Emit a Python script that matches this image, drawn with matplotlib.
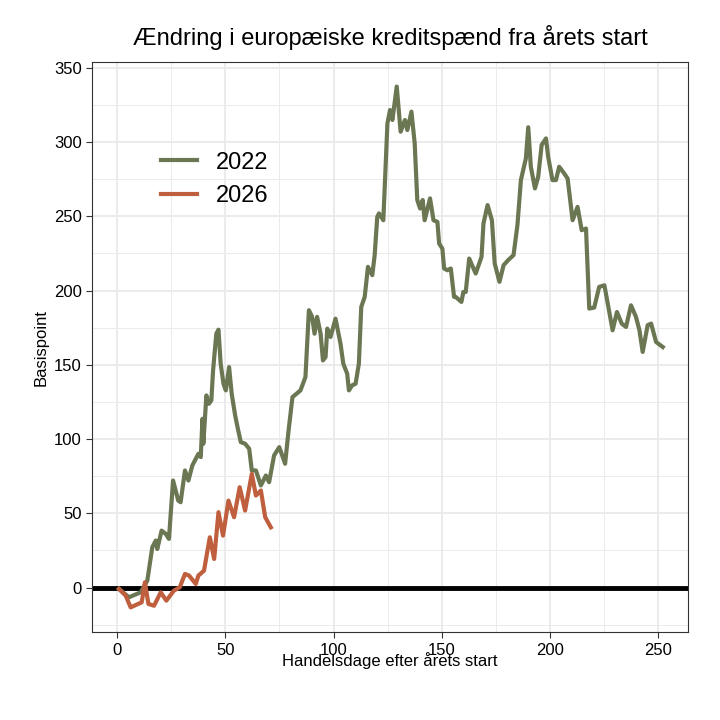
import matplotlib
matplotlib.use("Agg")
import matplotlib.pyplot as plt
from matplotlib.ticker import MultipleLocator
plt.rcParams['font.family'] = ['Liberation Sans', 'DejaVu Sans']

days_2022 = [0.8,5.4,10.8,13.9,16.2,17.8,18.5,20.5,22.4,23.9,25.8,28.2,29.3,31.3,32.9,34.7,37.5,38.6,39.4,39.8,41.2,42.4,43.5,44.3,45.8,46.8,47.8,49.1,50.2,51.7,52.9,54.5,55.6,57.1,59.1,61,62.2,64.1,66.4,68.7,70.2,72.5,74.9,77.6,79.2,81,84.7,87,88.6,90.1,91.2,92.4,94,95.1,96.3,97.1,98.6,100.9,103.2,104.5,106.3,107.1,108.6,110.2,111.7,112.8,114.4,115.9,117.9,119,120.2,121,123,124.9,126.1,127.2,129.2,131,133,134.1,136,137.5,138.7,140,141.2,142.1,144.6,146.2,148,148.8,150.3,151.1,152.6,154.2,155.7,156.4,159.1,160,161.1,162.7,165.7,168.4,169.3,171.2,173.2,174.5,176.7,178.6,180.7,183.2,185,186.6,188.9,190,191.2,193.1,194.6,196.2,198.2,199.2,201.2,202.8,204.3,206.6,208.2,210.5,212.8,214.7,216.7,218.2,220.5,222.8,225.2,229,231,233.2,235.2,237.5,239.8,241.4,242.9,245.2,246.8,249.1,252.2]
vals_2022 = [-0.9,-6.5,-3.2,4.7,27.2,31.7,26,38.4,36.2,32.8,72.1,58.6,57.5,78.9,72.1,82.2,90.1,87.9,113.7,96.9,129.4,123.8,126.1,146.3,171,173.7,150.8,137.3,132.8,148.5,130.6,116,108.1,98,96.9,93.5,78.9,78.9,68.8,75.5,71,89,94.6,83.4,105.8,128.3,132.8,141.8,186.8,182.3,171,182.3,171,153,155.3,174.4,168.8,181.1,164.3,150.8,144,132.8,136.2,137.3,150.8,189,195.8,216,210.4,223.9,249.7,252,247.4,312.6,321.6,314.9,337.4,307,314.9,308.1,320.5,299.2,261,255.3,261,247.4,262.1,247.4,246.3,231.7,228.3,214.9,213.7,214.9,195.8,195.8,192.4,199.1,199.1,221.6,211.5,222.7,245.2,257.6,247.4,218.2,205.9,217.1,220.5,223.9,244.1,274.4,289,310,283.4,268.8,276.7,298.1,302.5,290.2,274.4,274.4,283.4,278.9,275.5,247.4,256.4,240.7,241.8,187.9,188.6,202.5,203.6,173.3,185.6,177.8,175.5,190.1,182.3,173.3,158.7,176.7,177.8,165.4,162]

days_2026 = [0.8,3.9,6.2,11.3,12.8,14.4,17,20.1,22.7,26.2,28.9,31.3,33.2,36.3,37.5,40.1,42.8,44.8,46.8,48.9,51.4,54,56.6,59.1,62.2,64.1,66.4,68.4,71]
vals_2026 = [-0.9,-5.4,-13.3,-9.9,3.6,-11,-12.2,-3.2,-8.8,-2,0.2,9.2,8.1,2.5,8.1,11.4,33.9,19.3,50.8,35,58.6,47.4,67.6,51.9,76.6,62,65.4,47.4,40.6]

x_ticks = [0, 50, 100, 150, 200, 250]
y_ticks = [0, 50, 100, 150, 200, 250, 300, 350]

fig = plt.figure(figsize=(7.2, 7.2), dpi=100)
ax = fig.add_axes([0.128, 0.122, 0.828, 0.792])
ax.set_xlim(-11.6, 264)
ax.set_ylim(-30, 354)
ax.xaxis.set_minor_locator(MultipleLocator(25))
ax.yaxis.set_minor_locator(MultipleLocator(25))
ax.set_xticks(x_ticks)
ax.set_yticks(y_ticks)
ax.grid(which='major', color='#ebebeb', lw=1.4)
ax.grid(which='minor', color='#ebebeb', lw=0.7)
ax.set_axisbelow(True)
for s in ax.spines.values():
    s.set_color('#333333'); s.set_linewidth(0.8)
ax.tick_params(which='minor', length=0)
ax.tick_params(which='major', length=4, color='#333333', labelsize=12, labelcolor='black')
ax.axhline(0, color='black', lw=3.5, zorder=2)
ax.plot(days_2022, vals_2022, color='#6b7752', lw=3, label='2022', zorder=3)
ax.plot(days_2026, vals_2026, color='#bf5f3e', lw=3, label='2026', zorder=3)
leg = ax.legend(loc='upper left', bbox_to_anchor=(0.08, 0.88), frameon=False, fontsize=17, handlelength=1.5)
ax.set_title('Ændring i europæiske kreditspænd fra årets start', fontsize=17, pad=12)
ax.set_xlabel('Handelsdage efter årets start', fontsize=12, labelpad=-4)
ax.set_ylabel('Basispoint', fontsize=12)
fig.savefig('out.png', dpi=100)
